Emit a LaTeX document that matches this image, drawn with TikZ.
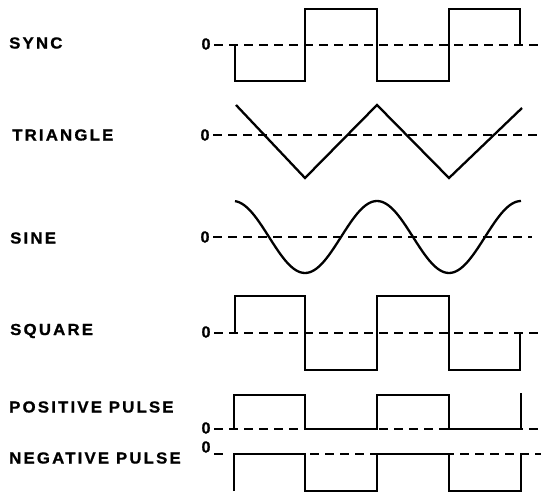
\documentclass[tikz,border=0pt]{standalone}
\usepackage{fontspec}
\usepackage{graphicx}
\setmainfont{Liberation Sans}
\newfontfamily\lblfont[LetterSpace=13,BoldFeatures={FakeBold=1}]{Liberation Sans}
\newfontfamily\zerofont[BoldFeatures={FakeBold=1}]{Liberation Sans}
\newcommand\wlabel[1]{\scalebox{1.05}[1]{#1}}
\begin{document}
\begin{tikzpicture}[x=1pt,y=-1pt,
  wave/.style={line width=2.3pt, line join=miter},
  zeroline/.style={line width=1.8pt, dash pattern=on 9pt off 6pt},
  lbl/.style={anchor=west, inner sep=0pt, font=\lblfont\fontsize{16}{16}\selectfont\bfseries},
  zlbl/.style={inner sep=0pt, font=\zerofont\fontsize{16}{16}\selectfont\bfseries}]
\useasboundingbox (0,0) rectangle (544,497);

% labels
\node[lbl] (lsync) at (9,43) {\wlabel{SYNC}};
\node[lbl] (ltri) at (12,135) {\wlabel{TRIANGLE}};
\node[lbl] (lsine) at (10,238) {\wlabel{SINE}};
\node[lbl] (lsq) at (10,331) {\wlabel{SQUARE}};
\node[lbl] (lpos) at (9,407) {\wlabel{POSITIVE PULSE}};
\node[lbl] (lneg) at (9,458) {\wlabel{NEGATIVE PULSE}};

% zero marks
\node[zlbl] (z1) at (206,44) {0};
\node[zlbl] (z2) at (205,135) {0};
\node[zlbl] (z3) at (205,237) {0};
\node[zlbl] (z4) at (206,332) {0};
\node[zlbl] (z5) at (206,428) {0};
\node[zlbl] (z6) at (206,447) {0};

% zero lines
\draw[zeroline] (214,45) -- (541,45);
\draw[zeroline] (213,135) -- (539,135);
\draw[zeroline] (213,237) -- (532,237);
\draw[zeroline] (214,333) -- (544,333);
\draw[zeroline] (214,429) -- (538,429);
\draw[zeroline] (214,454) -- (223,454);
\draw[zeroline] (310,454) -- (541,454);

% SYNC
\draw[wave] (235,45) -- (235,81) -- (305,81) -- (305,9) -- (377,9) -- (377,81)
  -- (449,81) -- (449,9) -- (520,9) -- (520,45);

% TRIANGLE
\draw[wave] (236,105) -- (305,178) -- (377,105) -- (449,178) -- (522,108);

% SINE
\draw[wave, domain=235:521, samples=120, smooth, variable=\t]
  plot ({\t}, {237-36*cos(2.5*(\t-233))});

% SQUARE
\draw[wave] (235,333) -- (235,296) -- (305,296) -- (305,370) -- (377,370) -- (377,296)
  -- (449,296) -- (449,370) -- (520,370) -- (520,333);

% POSITIVE PULSE
\draw[wave] (234,429) -- (234,395) -- (305,395) -- (305,429) -- (377,429) -- (377,395)
  -- (449,395) -- (449,429) -- (521,429) -- (521,393);

% NEGATIVE PULSE
\draw[wave] (234,491) -- (234,454) -- (305,454) -- (305,491) -- (377,491) -- (377,454)
  -- (449,454) -- (449,491) -- (521,491) -- (521,454);
\end{tikzpicture}
\end{document}
